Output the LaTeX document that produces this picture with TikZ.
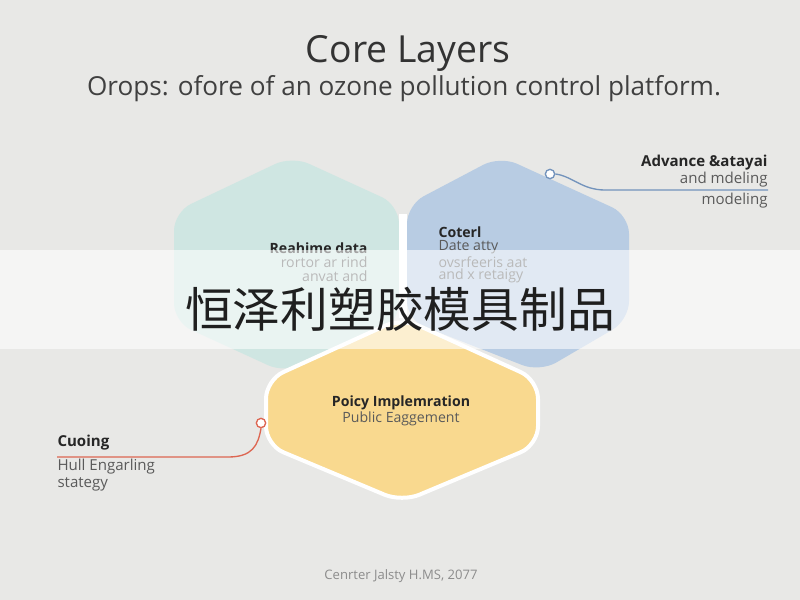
\documentclass[tikz,border=0pt]{standalone}
\usepackage{fontspec}
\setmainfont{Open Sans}
\newfontfamily\cjkfont{Noto Sans CJK SC}
\usetikzlibrary{positioning}
\definecolor{bggray}{HTML}{E8E8E6}
\definecolor{hexteal}{HTML}{CFE6E2}
\definecolor{hexblue}{HTML}{B8CCE3}
\definecolor{hexsand}{HTML}{F9D98F}
\definecolor{linkblue}{HTML}{7393BC}
\definecolor{linkred}{HTML}{DD6652}
\definecolor{txtgray}{HTML}{5A5A5A}
\tikzset{every picture/.style={line width=0.75pt}}
\tikzset{
  hexcell/.style  ={draw=none, rounded corners=14pt, line join=round},
  hexhead/.style  ={font=\bfseries\fontsize{10.6}{12}\selectfont, inner sep=0pt, text=black!85},
  hexline/.style  ={font=\fontsize{10.6}{12}\selectfont, inner sep=0pt, text=txtgray},
  sidehead/.style ={font=\bfseries\fontsize{11.3}{13}\selectfont, inner sep=0pt, text=black!85},
  sideline/.style ={font=\fontsize{11.3}{13}\selectfont, inner sep=0pt, text=txtgray},
  pinmark/.style  ={circle, draw, line width=1pt, fill=white, minimum size=7pt, inner sep=0pt},
  pinlink/.style  ={line width=1pt},
}

\begin{document}
\begin{tikzpicture}[x=0.75pt, y=-0.75pt]
        \useasboundingbox (0,0) rectangle (800,600);
        \fill[bggray] (0,0) rectangle (800,600);
        % titel
        \node[font=\fontsize{28}{32}\selectfont, text=black!80] (title) at (408,53) {Core Layers};
        \node[font=\fontsize{19.6}{22}\selectfont, text=black!75] (subtitle) at (404,89) {Orops: ofore of an ozone pollution control platform.};
        % hexagone
        \draw[hexcell, fill=hexteal] (292,156) -- (399,205) -- (399,322) -- (285,373) -- (174,322) -- (174,212) -- cycle;
        \draw[hexcell, fill=hexblue] (500,156) -- (629,215) -- (629,320) -- (540,372) -- (407,320) -- (407,205) -- cycle;
        \fill[white] (399,214) rectangle (407,318);
        \draw[hexcell, fill=hexsand, draw=white, line width=3pt] (402,318) -- (538,380) -- (538,445) -- (402,502) -- (266,445) -- (266,380) -- cycle;
        % texte links
        \node[hexhead, anchor=east] (rt1) at (368,248) {Reahime data};
        \node[hexline, anchor=east] (rt2) at (368,262) {rortor ar rind};
        \node[hexline, anchor=east] (rt3) at (368,276) {anvat and};
        % texte rechts
        \node[hexhead, anchor=west] (ct1) at (438,232) {Coterl};
        \node[hexline, anchor=west] (ct2) at (438,247) {Date atty};
        \node[hexline, anchor=west] (ct3) at (438,262) {ovsrfeeris aat};
        \node[hexline, anchor=west] (ct4) at (438,276) {and x retaigy};
        % texte unten
        \node[hexhead] (pi1) at (401,403) {Poicy Implemration};
        \node[hexline] (pi2) at (401,419) {Public Eaggement};
        % callout rechts
        \node[pinmark, draw=linkblue] (pinB) at (550,174) {};
        \coordinate (endB) at (768,190);
        \draw[pinlink, linkblue] (pinB.east) .. controls (572,176) and (582,190) .. (605,190) -- (endB);
        \node[sidehead, anchor=east] (adv1) at (768,163) {Advance \&atayai};
        \node[sideline, anchor=east] (adv2) at (768,180) {and mdeling};
        \node[sideline, anchor=east] (adv3) at (768,201) {modeling};
        % callout links
        \node[pinmark, draw=linkred] (pinR) at (261,423) {};
        \coordinate (endR) at (57,457);
        \draw[pinlink, linkred] (pinR.south) .. controls (258,446) and (252,457) .. (228,457) -- (endR);
        \node[sidehead, anchor=west] (cu1) at (57,443) {Cuoing};
        \node[sideline, anchor=west] (cu2) at (57,467) {Hull Engarling};
        \node[sideline, anchor=west] (cu3) at (57,484) {stategy};
        % fuss
        \node[font=\fontsize{9.8}{11}\selectfont, text=black!45] (foot) at (401,576) {Cenrter Jalsty H.MS, 2077};
        % band
        \fill[white, opacity=0.58] (0,250) rectangle (800,349);
        \node[font=\cjkfont\fontsize{35.8}{40}\selectfont, text=black!88, inner sep=0pt] (band) at (400,309) {恒泽利塑胶模具制品};
\end{tikzpicture}
\end{document}
